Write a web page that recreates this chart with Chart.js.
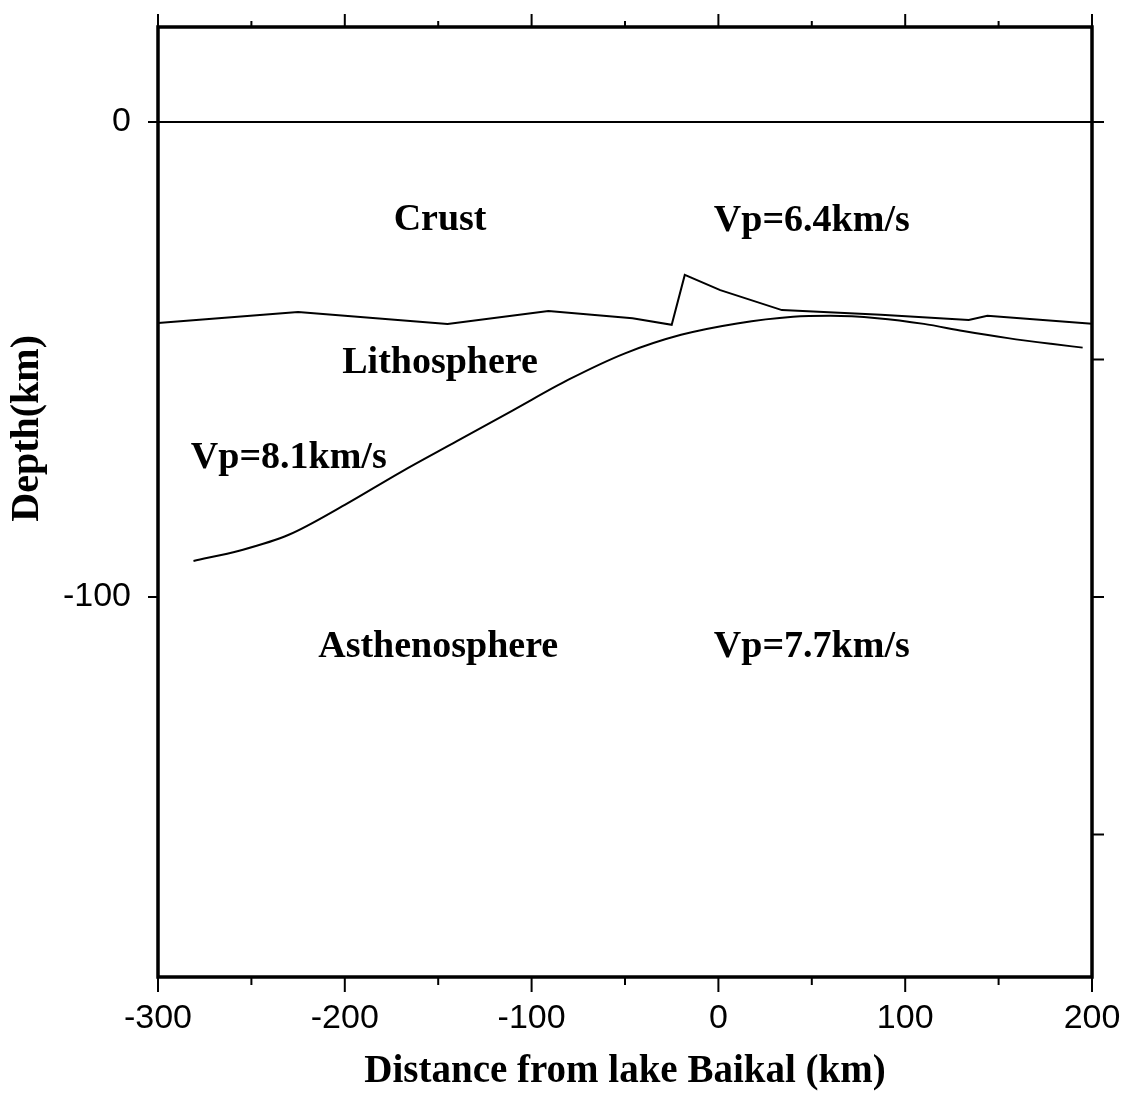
<!DOCTYPE html>
<html>
<head>
<meta charset="utf-8">
<script src="https://cdn.jsdelivr.net/npm/chart.js@4"></script>
<style>
    html, body { margin: 0; padding: 0; background: #fff; }
    canvas { display: block; }
</style>
</head>
<body>
<canvas id="profile-chart" width="1128" height="1095"></canvas>
<script>
'use strict';

// distance from lake Baikal (km) and depth (km, negative is down)
const surfaceDistance = [-300, 200];
const surfaceDepth = [0, 0];

// base of the crust
const mohoDistance = [-300, -225, -145, -91, -46, -25, -18, 1, 34, 87, 134, 144, 200];
const mohoDepth = [-42.3, -40.0, -42.5, -39.8, -41.3, -42.7, -32.2, -35.4, -39.6, -40.6, -41.7, -40.8, -42.5];

// base of the lithosphere
const labDistance = [-281, -256, -230, -200, -170, -140, -110, -80, -50, -20, 10, 40, 60, 85, 110, 131, 155, 178, 195];
const labDepth = [-92.4, -90.2, -86.9, -80.6, -73.7, -67.2, -60.7, -54.2, -48.7, -44.8, -42.4, -41.0, -40.8, -41.3, -42.5, -44.0, -45.5, -46.7, -47.5];

const xTickLabels = [-300, -200, -100, 0, 100, 200];
const yTickLabels = [0, -100];

const regionNames = ['Crust', 'Vp=6.4km/s', 'Lithosphere', 'Vp=8.1km/s', 'Asthenosphere', 'Vp=7.7km/s'];
const regionDistance = [-149, 50, -149, -230, -150, 50];
const regionDepth = [-22.8, -23.0, -52.8, -72.8, -112.6, -112.6];

let toPoints = (xs, ys) => xs.map((x, i) => ({x: x, y: ys[i]}));

let drawLine = (ctx, x1, y1, x2, y2) => {
    ctx.beginPath();
    ctx.moveTo(x1, y1);
    ctx.lineTo(x2, y2);
    ctx.stroke();
};

// keep the label overhang from shrinking the plot box
let noOverhang = (scale) => {
    scale.paddingTop = 0;
    scale.paddingBottom = 0;
    scale.paddingLeft = 0;
    scale.paddingRight = 0;
};

let frameAndLabels = {
    id: 'frameAndLabels',
    beforeDraw: (chart) => {
        const ctx = chart.ctx;
        ctx.save();
        ctx.fillStyle = '#fff';
        ctx.fillRect(0, 0, chart.width, chart.height);
        ctx.restore();
    },
    afterDatasetsDraw: (chart) => {
        const {ctx, chartArea: a, scales: {x, y}} = chart;
        ctx.save();
        ctx.strokeStyle = '#000';
        ctx.lineWidth = 3.5;
        ctx.strokeRect(a.left, a.top, a.right - a.left, a.bottom - a.top);

        // tick marks, every 50 km, longer at every 100 km
        ctx.lineWidth = 2;
        for (let v = -300; v <= 200; v += 50) {
            const px = x.getPixelForValue(v);
            const major = v % 100 === 0;
            drawLine(ctx, px, a.top, px, a.top - (major ? 13 : 6));
            drawLine(ctx, px, a.bottom, px, a.bottom + (major ? 15 : 8));
        }
        for (let v = 0; v >= -150; v -= 50) {
            const py = y.getPixelForValue(v);
            drawLine(ctx, a.right, py, a.right + 12, py);
        }
        yTickLabels.forEach(v => {
            const py = y.getPixelForValue(v);
            drawLine(ctx, a.left, py, a.left - 10, py);
        });

        // region names
        ctx.fillStyle = '#000';
        ctx.font = 'bold 38px "Liberation Serif"';
        ctx.textAlign = 'center';
        ctx.textBaseline = 'alphabetic';
        regionNames.forEach((name, i) => {
            ctx.fillText(name, x.getPixelForValue(regionDistance[i]), y.getPixelForValue(regionDepth[i]));
        });

        // y axis title sits above the middle of the axis
        ctx.font = 'bold 40px "Liberation Serif"';
        ctx.translate(28, y.getPixelForValue(-64.5));
        ctx.rotate(-Math.PI / 2);
        ctx.textBaseline = 'middle';
        ctx.fillText('Depth(km)', 0, 0);
        ctx.restore();
    }
};

let lineStyle = {
    borderColor: '#000',
    borderWidth: 2,
    pointRadius: 0,
    showLine: true,
    fill: false
};

new Chart(document.getElementById('profile-chart'), {
    type: 'scatter',
    data: {
        datasets: [
            Object.assign({label: 'surface', data: toPoints(surfaceDistance, surfaceDepth)}, lineStyle),
            Object.assign({label: 'moho', data: toPoints(mohoDistance, mohoDepth)}, lineStyle),
            Object.assign({label: 'lab', data: toPoints(labDistance, labDepth), cubicInterpolationMode: 'monotone'}, lineStyle)
        ]
    },
    options: {
        responsive: false,
        animation: false,
        devicePixelRatio: 1,
        layout: {
            padding: {left: 0, right: 36, top: 27, bottom: 0}
        },
        scales: {
            x: {
                type: 'linear',
                min: -300,
                max: 200,
                afterBuildTicks: (scale) => {
                    scale.ticks = xTickLabels.map(v => ({value: v}));
                },
                afterFit: (scale) => {
                    scale.height = 118;
                    noOverhang(scale);
                },
                grid: {display: false, drawTicks: false},
                border: {display: false},
                ticks: {
                    color: '#000',
                    font: {family: 'Liberation Sans', size: 34},
                    padding: 21,
                    maxRotation: 0,
                    autoSkip: false
                },
                title: {
                    display: true,
                    text: 'Distance from lake Baikal (km)',
                    color: '#000',
                    font: {family: 'Liberation Serif', size: 39, weight: 'bold'},
                    padding: {top: 0, bottom: 0}
                }
            },
            y: {
                type: 'linear',
                min: -180,
                max: 20,
                afterBuildTicks: (scale) => {
                    scale.ticks = yTickLabels.map(v => ({value: v}));
                },
                afterFit: (scale) => {
                    scale.width = 158;
                    noOverhang(scale);
                },
                grid: {display: false, drawTicks: false},
                border: {display: false},
                ticks: {
                    color: '#000',
                    font: {family: 'Liberation Sans', size: 34},
                    padding: 27,
                    autoSkip: false
                }
            }
        },
        plugins: {
            legend: {display: false},
            tooltip: {enabled: false}
        }
    },
    plugins: [frameAndLabels]
});
</script>
</body>
</html>
